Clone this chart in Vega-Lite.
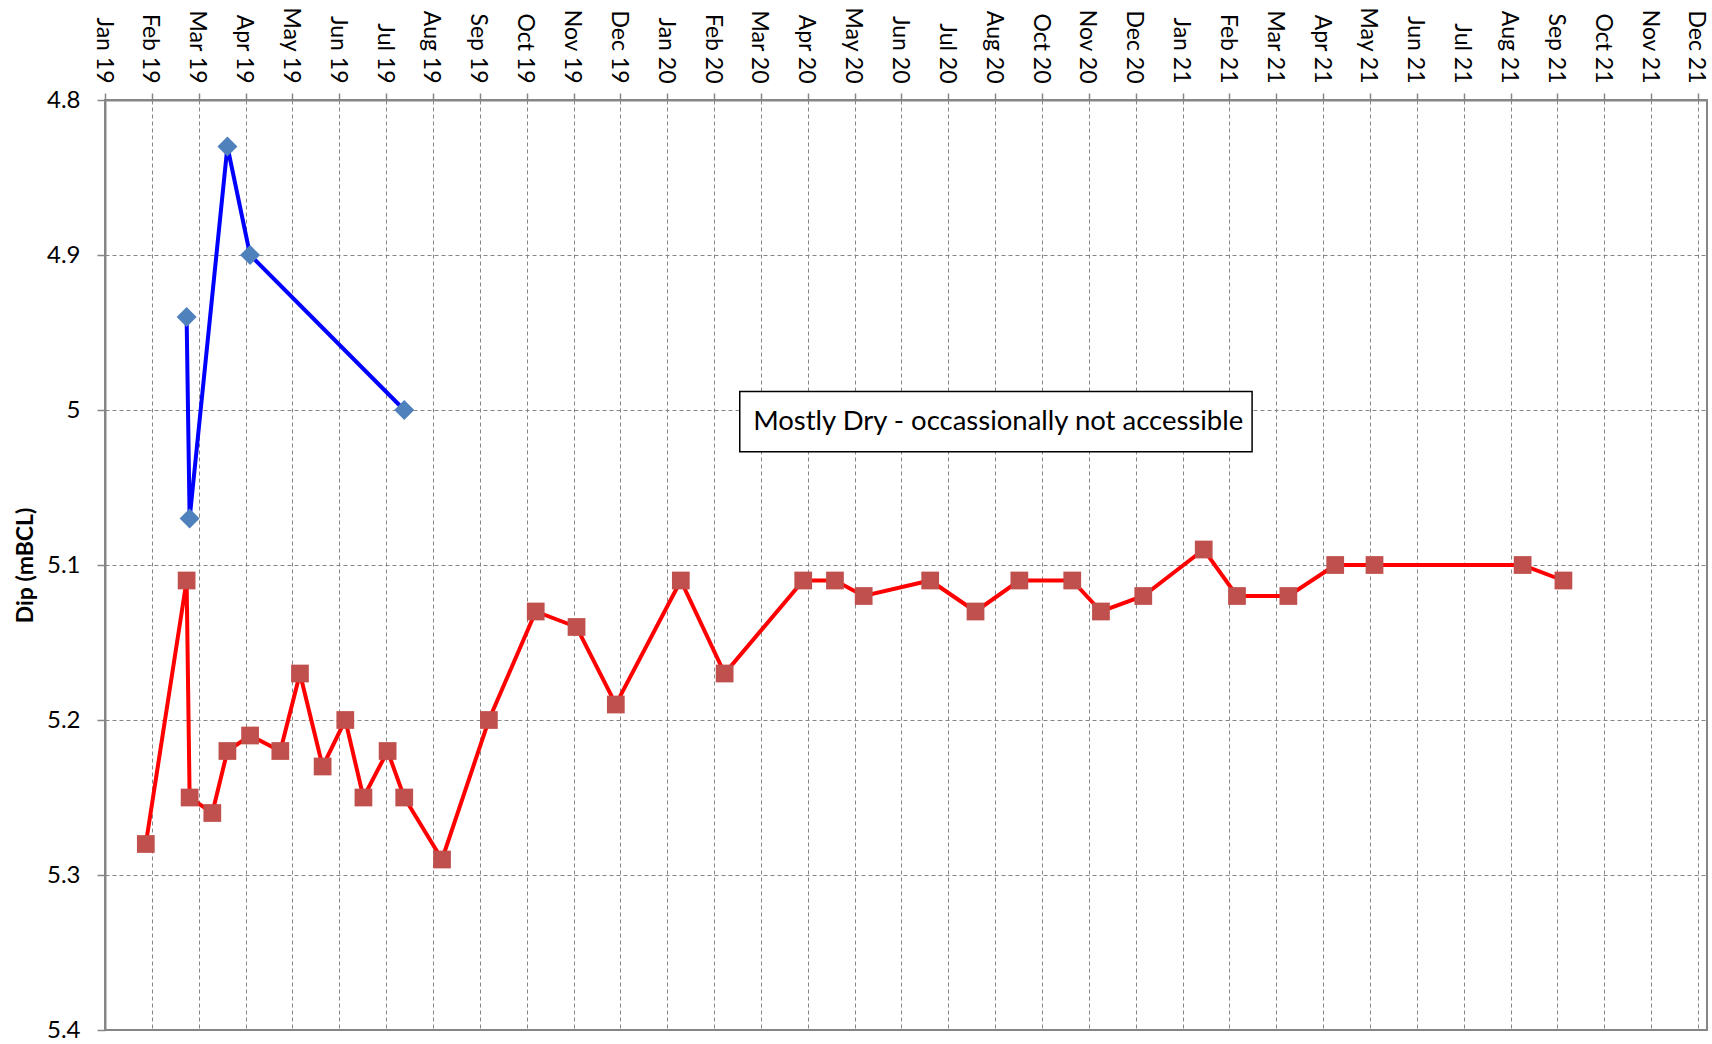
{
  "$schema": "https://vega.github.io/schema/vega-lite/v6.json",
  "width": 1602,
  "height": 930,
  "autosize": {"type": "none"},
  "padding": {"left": 105, "top": 100, "right": 5, "bottom": 14},
  "background": "white",
  "config": {
    "view": {"stroke": "#868686", "strokeWidth": 2},
    "font": "Lato"
  },
  "datasets": {
    "levels": [
      {"series": "Bore 1", "date": "2019-03-15", "dip": 4.94},
      {"series": "Bore 1", "date": "2019-03-17", "dip": 5.07},
      {"series": "Bore 1", "date": "2019-04-11", "dip": 4.83},
      {"series": "Bore 1", "date": "2019-04-26", "dip": 4.90},
      {"series": "Bore 1", "date": "2019-08-06", "dip": 5.00},
      {"series": "Bore 2", "date": "2019-02-16", "dip": 5.28},
      {"series": "Bore 2", "date": "2019-03-15", "dip": 5.11},
      {"series": "Bore 2", "date": "2019-03-17", "dip": 5.25},
      {"series": "Bore 2", "date": "2019-04-01", "dip": 5.26},
      {"series": "Bore 2", "date": "2019-04-11", "dip": 5.22},
      {"series": "Bore 2", "date": "2019-04-26", "dip": 5.21},
      {"series": "Bore 2", "date": "2019-05-16", "dip": 5.22},
      {"series": "Bore 2", "date": "2019-05-29", "dip": 5.17},
      {"series": "Bore 2", "date": "2019-06-13", "dip": 5.23},
      {"series": "Bore 2", "date": "2019-06-28", "dip": 5.20},
      {"series": "Bore 2", "date": "2019-07-10", "dip": 5.25},
      {"series": "Bore 2", "date": "2019-07-26", "dip": 5.22},
      {"series": "Bore 2", "date": "2019-08-06", "dip": 5.25},
      {"series": "Bore 2", "date": "2019-08-31", "dip": 5.29},
      {"series": "Bore 2", "date": "2019-10-01", "dip": 5.20},
      {"series": "Bore 2", "date": "2019-11-01", "dip": 5.13},
      {"series": "Bore 2", "date": "2019-11-28", "dip": 5.14},
      {"series": "Bore 2", "date": "2019-12-24", "dip": 5.19},
      {"series": "Bore 2", "date": "2020-02-05", "dip": 5.11},
      {"series": "Bore 2", "date": "2020-03-05", "dip": 5.17},
      {"series": "Bore 2", "date": "2020-04-26", "dip": 5.11},
      {"series": "Bore 2", "date": "2020-05-17", "dip": 5.11},
      {"series": "Bore 2", "date": "2020-06-05", "dip": 5.12},
      {"series": "Bore 2", "date": "2020-07-19", "dip": 5.11},
      {"series": "Bore 2", "date": "2020-08-18", "dip": 5.13},
      {"series": "Bore 2", "date": "2020-09-16", "dip": 5.11},
      {"series": "Bore 2", "date": "2020-10-21", "dip": 5.11},
      {"series": "Bore 2", "date": "2020-11-09", "dip": 5.13},
      {"series": "Bore 2", "date": "2020-12-07", "dip": 5.12},
      {"series": "Bore 2", "date": "2021-01-16", "dip": 5.09},
      {"series": "Bore 2", "date": "2021-02-07", "dip": 5.12},
      {"series": "Bore 2", "date": "2021-03-13", "dip": 5.12},
      {"series": "Bore 2", "date": "2021-04-13", "dip": 5.10},
      {"series": "Bore 2", "date": "2021-05-09", "dip": 5.10},
      {"series": "Bore 2", "date": "2021-08-15", "dip": 5.10},
      {"series": "Bore 2", "date": "2021-09-11", "dip": 5.11}
    ],
    "note": [
      {"start": "2020-03-15", "end": "2021-02-17", "top": 4.988, "bottom": 5.027, "mid": "2020-09-02", "centre": 5.0075, "label": "Mostly Dry - occassionally not accessible"}
    ]
  },
  "layer": [
    {
      "data": {"name": "levels"},
      "mark": {"type": "line", "strokeWidth": 4},
      "encoding": {
        "x": {
          "field": "date", "type": "temporal", "title": null,
          "scale": {"type": "utc", "domain": [{"year": 2019, "month": 1, "date": 20, "utc": true}, {"year": 2021, "month": 12, "date": 15, "utc": true}]},
          "axis": {
            "orient": "top",
            "values": [
              {"year": 2019, "month": 1, "date": 20, "utc": true},
              {"year": 2019, "month": 2, "date": 20, "utc": true},
              {"year": 2019, "month": 3, "date": 23, "utc": true},
              {"year": 2019, "month": 4, "date": 23, "utc": true},
              {"year": 2019, "month": 5, "date": 24, "utc": true},
              {"year": 2019, "month": 6, "date": 24, "utc": true},
              {"year": 2019, "month": 7, "date": 25, "utc": true},
              {"year": 2019, "month": 8, "date": 25, "utc": true},
              {"year": 2019, "month": 9, "date": 25, "utc": true},
              {"year": 2019, "month": 10, "date": 26, "utc": true},
              {"year": 2019, "month": 11, "date": 26, "utc": true},
              {"year": 2019, "month": 12, "date": 27, "utc": true},
              {"year": 2020, "month": 1, "date": 27, "utc": true},
              {"year": 2020, "month": 2, "date": 27, "utc": true},
              {"year": 2020, "month": 3, "date": 29, "utc": true},
              {"year": 2020, "month": 4, "date": 29, "utc": true},
              {"year": 2020, "month": 5, "date": 30, "utc": true},
              {"year": 2020, "month": 6, "date": 30, "utc": true},
              {"year": 2020, "month": 7, "date": 31, "utc": true},
              {"year": 2020, "month": 8, "date": 31, "utc": true},
              {"year": 2020, "month": 10, "date": 1, "utc": true},
              {"year": 2020, "month": 11, "date": 1, "utc": true},
              {"year": 2020, "month": 12, "date": 2, "utc": true},
              {"year": 2021, "month": 1, "date": 2, "utc": true},
              {"year": 2021, "month": 2, "date": 2, "utc": true},
              {"year": 2021, "month": 3, "date": 5, "utc": true},
              {"year": 2021, "month": 4, "date": 5, "utc": true},
              {"year": 2021, "month": 5, "date": 6, "utc": true},
              {"year": 2021, "month": 6, "date": 6, "utc": true},
              {"year": 2021, "month": 7, "date": 7, "utc": true},
              {"year": 2021, "month": 8, "date": 7, "utc": true},
              {"year": 2021, "month": 9, "date": 7, "utc": true},
              {"year": 2021, "month": 10, "date": 8, "utc": true},
              {"year": 2021, "month": 11, "date": 8, "utc": true},
              {"year": 2021, "month": 12, "date": 9, "utc": true}
            ],
            "format": "%b %y",
            "labelAngle": 90,
            "labelAlign": "right",
            "labelBaseline": "middle",
            "labelFont": "Lato",
            "labelFontSize": 23,
            "labelColor": "#000000",
            "labelPadding": 10,
            "labelOffset": -2,
            "labelFlush": false,
            "labelOverlap": false,
            "tickSize": 7,
            "tickColor": "#868686",
            "tickWidth": 1.5,
            "domainColor": "#868686",
            "domainWidth": 2,
            "grid": true,
            "gridColor": "#868686",
            "gridDash": [4, 3],
            "gridWidth": 1
          }
        },
        "y": {
          "field": "dip", "type": "quantitative", "title": "Dip (mBCL)",
          "scale": {"domain": [4.8, 5.4], "reverse": true, "nice": false, "zero": false},
          "axis": {
            "values": [4.8, 4.9, 5, 5.1, 5.2, 5.3, 5.4],
            "format": "~g",
            "labelFont": "Lato",
            "labelFontSize": 24,
            "labelColor": "#000000",
            "labelPadding": 17,
            "labelFlush": false,
            "tickSize": 8,
            "tickColor": "#868686",
            "tickWidth": 1.5,
            "domainColor": "#868686",
            "domainWidth": 2,
            "grid": true,
            "gridColor": "#868686",
            "gridDash": [4, 3],
            "gridWidth": 1,
            "titleFont": "Lato",
            "titleFontSize": 23,
            "titleFontWeight": "bold",
            "titleColor": "#000000",
            "titlePadding": 9
          }
        },
        "color": {
          "field": "series", "type": "nominal",
          "scale": {"domain": ["Bore 1", "Bore 2"], "range": ["#0000FF", "#FF0000"]},
          "legend": null
        }
      }
    },
    {
      "data": {"name": "levels"},
      "mark": {"type": "point", "filled": true, "opacity": 1, "strokeWidth": 0},
      "encoding": {
        "x": {"field": "date", "type": "temporal", "title": null},
        "y": {"field": "dip", "type": "quantitative", "title": "Dip (mBCL)"},
        "fill": {
          "field": "series", "type": "nominal",
          "scale": {"domain": ["Bore 1", "Bore 2"], "range": ["#4F81BD", "#C0504D"]},
          "legend": null
        },
        "shape": {
          "field": "series", "type": "nominal",
          "scale": {"domain": ["Bore 1", "Bore 2"], "range": ["diamond", "square"]},
          "legend": null
        },
        "size": {
          "field": "series", "type": "nominal",
          "scale": {"domain": ["Bore 1", "Bore 2"], "range": [400, 315]},
          "legend": null
        }
      }
    },
    {
      "data": {"name": "note"},
      "mark": {"type": "rect", "fill": "#FFFFFF", "stroke": "#000000", "strokeWidth": 1.5},
      "encoding": {
        "x": {"field": "start", "type": "temporal", "title": null},
        "x2": {"field": "end"},
        "y": {"field": "top", "type": "quantitative", "title": "Dip (mBCL)"},
        "y2": {"field": "bottom"}
      }
    },
    {
      "data": {"name": "note"},
      "mark": {"type": "text", "font": "Lato", "fontSize": 27.5, "color": "#000000", "align": "center", "baseline": "middle"},
      "encoding": {
        "x": {"field": "mid", "type": "temporal", "title": null},
        "y": {"field": "centre", "type": "quantitative", "title": "Dip (mBCL)"},
        "text": {"field": "label"}
      }
    }
  ]
}
